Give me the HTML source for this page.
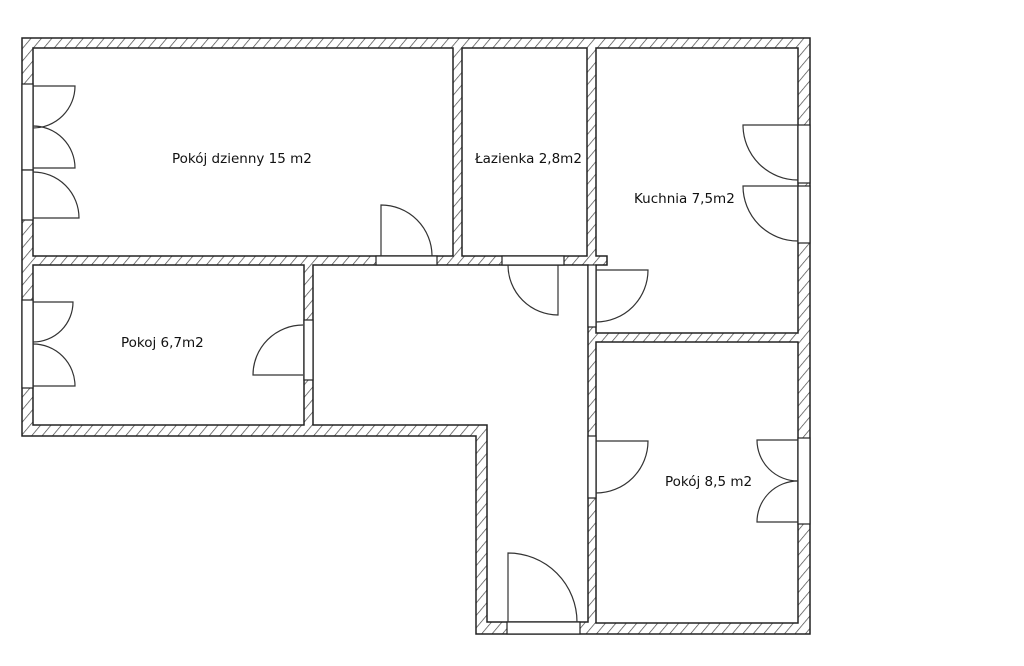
<!DOCTYPE html>
<html><head><meta charset="utf-8"><style>
html,body{margin:0;padding:0;background:#fff;width:1024px;height:666px;overflow:hidden}
svg{display:block}
text{font-family:"DejaVu Sans","Liberation Sans",sans-serif;font-size:13.5px;fill:#111}
</style></head><body>
<svg width="1024" height="666" viewBox="0 0 1024 666" xmlns="http://www.w3.org/2000/svg">
<defs>
<pattern id="h" patternUnits="userSpaceOnUse" width="8" height="8" patternTransform="rotate(40)">
<rect width="8" height="8" fill="#fff"/>
<line x1="0" y1="0" x2="0" y2="8" stroke="#444" stroke-width="1.4"/>
</pattern>
</defs>
<g stroke="#222" stroke-width="1.5">
<polygon points="22,38 810,38 810,634 476,634 476,436 22,436" fill="url(#h)"/>
<rect x="33" y="48" width="420" height="208" fill="#fff"/>
<rect x="462" y="48" width="125" height="208" fill="#fff"/>
<polygon points="596,48 798,48 798,333 596,333 596,265 607,265 607,256 596,256" fill="#fff"/>
<rect x="596" y="342" width="202" height="281" fill="#fff"/>
<rect x="33" y="265" width="271" height="160" fill="#fff"/>
<polygon points="313,265 588,265 588,622 487,622 487,425 313,425" fill="#fff"/>
</g>
<g stroke="#222" stroke-width="1.2" fill="#fff">
<rect x="22" y="84" width="11" height="86"/>
<rect x="22" y="170" width="11" height="50"/>
<rect x="22" y="300" width="11" height="88"/>
<rect x="376" y="256" width="61" height="9"/>
<rect x="502" y="256" width="62" height="9"/>
<rect x="588" y="265" width="8" height="62"/>
<rect x="304" y="320" width="9" height="60"/>
<rect x="798" y="125" width="12" height="58"/>
<rect x="798" y="186" width="12" height="57"/>
<rect x="798" y="438" width="12" height="86"/>
<rect x="588" y="436" width="8" height="62"/>
<rect x="507" y="622" width="73" height="12"/>
</g>
<g stroke="#333" stroke-width="1.2" fill="none">
<path d="M33,86 H75 A42,42 0 0 1 33,128"/>
<path d="M33,168 H75 A42,42 0 0 0 33,126"/>
<path d="M33,218 H79 A46,46 0 0 0 33,172"/>
<path d="M33,302 H73 A40,40 0 0 1 33,342"/>
<path d="M33,386 H75 A42,42 0 0 0 33,344"/>
<path d="M381,256 V205 A51,51 0 0 1 432,256"/>
<path d="M558,265 V315 A50,50 0 0 1 508,265"/>
<path d="M596,270 H648 A52,52 0 0 1 596,322"/>
<path d="M303,375 H253 A50,50 0 0 1 303,325"/>
<path d="M798,125 H743 A55,55 0 0 0 798,180"/>
<path d="M798,186 H743 A55,55 0 0 0 798,241"/>
<path d="M798,440 H757 A41,41 0 0 0 798,481"/>
<path d="M798,522 H757 A41,41 0 0 1 798,481"/>
<path d="M596,441 H648 A52,52 0 0 1 596,493"/>
<path d="M508,622 V553 A69,69 0 0 1 577,622"/>
</g>
<text x="172" y="163">Pokój dzienny 15 m2</text>
<text x="475" y="163">Łazienka 2,8m2</text>
<text x="634" y="203">Kuchnia 7,5m2</text>
<text x="121" y="347">Pokoj 6,7m2</text>
<text x="665" y="486">Pokój 8,5 m2</text>
</svg>
</body></html>
